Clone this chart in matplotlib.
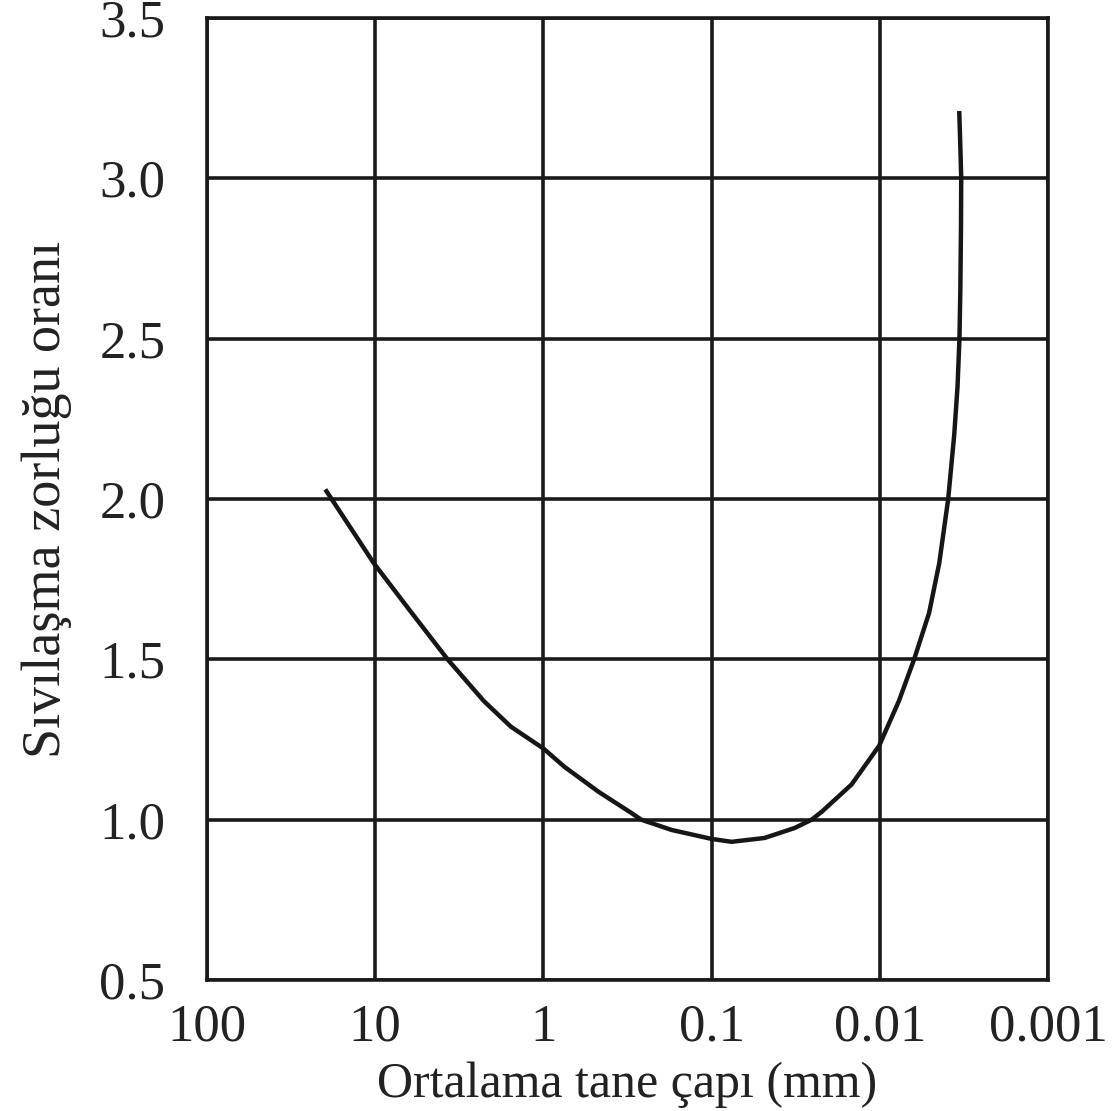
import numpy as np
import matplotlib
matplotlib.use("Agg")
import matplotlib.pyplot as plt

plt.rcParams['font.family'] = ['Liberation Serif', 'DejaVu Serif']

# grain size (mm) vs liquefaction difficulty ratio
tane_capi = [19.8, 14.0, 10.2, 6.17, 3.71, 2.26, 1.56, 1.0, 0.75, 0.47,
             0.30, 0.262, 0.173, 0.1, 0.076, 0.0484, 0.0321, 0.0254,
             0.0221, 0.0147, 0.0101, 0.0077, 0.00625, 0.00509, 0.00443,
             0.00392, 0.00361, 0.00345, 0.00336, 0.00332, 0.00329,
             0.00328, 0.00332, 0.00337]
zorluk = [2.03, 1.91, 1.80, 1.65, 1.50, 1.37, 1.29, 1.222, 1.165, 1.087,
          1.021, 1.0, 0.968, 0.940, 0.931, 0.943, 0.974, 1.0,
          1.025, 1.11, 1.23, 1.37, 1.50, 1.645, 1.80,
          2.0, 2.2, 2.35, 2.5, 2.65, 2.85,
          3.0, 3.1, 3.21]

x_ticks = [100, 10, 1, 0.1, 0.01, 0.001]
x_labels = ["100", "10", "1", "0.1", "0.01", "0.001"]
y_ticks = [0.5, 1.0, 1.5, 2.0, 2.5, 3.0, 3.5]

fig = plt.figure(figsize=(11.2, 11.11), dpi=100)
ax = fig.add_axes([0.1848, 0.1179, 0.7509, 0.8659])

ax.plot(tane_capi, zorluk, color='#161616', lw=3.2,
        solid_joinstyle='round', solid_capstyle='butt')

ax.set_xscale('log')
ax.set_xlim(100, 0.001)
ax.set_ylim(0.5, 3.5)
ax.set_xticks(x_ticks)
ax.set_xticklabels(x_labels)
ax.minorticks_off()
ax.set_yticks(y_ticks)
ax.set_yticklabels(["%.1f" % v for v in y_ticks])

ax.grid(True, color='#1a1a1a', lw=2.6)
ax.set_axisbelow(True)
for s in ax.spines.values():
    s.set_linewidth(2.6)
    s.set_color('#1a1a1a')

ax.tick_params(axis='both', length=0, labelsize=38, colors='#222222')
ax.tick_params(axis='x', pad=17)
ax.tick_params(axis='y', pad=30)

ax.set_xlabel("Ortalama tane çapı (mm)", fontsize=36, color='#222222', labelpad=7)
ax.set_ylabel("Sıvılaşma zorluğu oranı", fontsize=39, color='#222222', labelpad=20)

fig.savefig("out.png", dpi=100)
